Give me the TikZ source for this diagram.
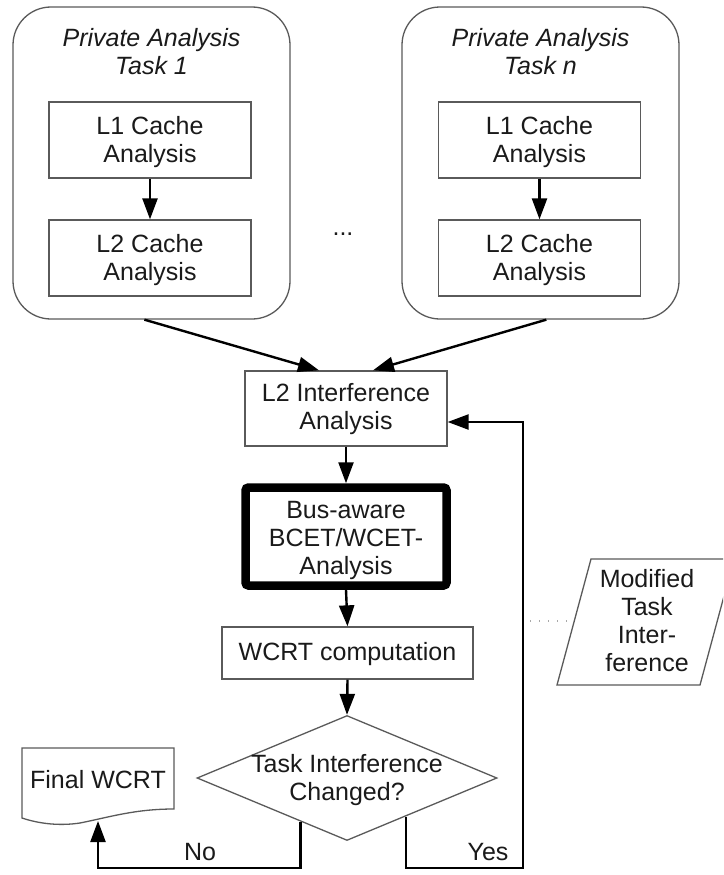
\documentclass[tikz,border=0pt]{standalone}
\usepackage{fontspec}
\setmainfont{Liberation Sans}
\usetikzlibrary{arrows.meta,shapes.geometric,calc}
\definecolor{gcol}{HTML}{5A5A5A}
\definecolor{tcol}{HTML}{1A1A1A}
\definecolor{dcol}{HTML}{A8A8A8}
\newcommand{\fsz}{\fontsize{25}{28}\selectfont}
\begin{document}
\begin{tikzpicture}[x=1pt,y=-1pt,
  txt/.style={inner sep=0pt, align=center, font=\fsz, text=tcol},
  boxline/.style={draw=gcol, line width=1.3pt},
  box/.style={boxline, fill=white, inner sep=0pt, minimum width=202pt, minimum height=76pt},
  outer/.style={boxline, rounded corners=38pt, inner sep=0pt, minimum width=277pt, minimum height=312pt},
  arr/.style={line width=2.4pt, draw=black, -{Triangle[length=21pt,width=15pt]}},
  dotline/.style={draw=dcol, line width=1.3pt, dash pattern=on 1.3pt off 7.7pt}
]
\useasboundingbox (0,0) rectangle (723,875);
\clip (0,0) rectangle (723,875);
\fill[white] (0,0) rectangle (723,875);

% private analysis boxes
\node[outer] (outL) at (151.5,163) {};
\node[txt, font=\fsz\itshape] (titleL) at (151.5,52) {Private Analysis\\Task 1};
\node[box] (L1L) at (150,140) {};
\node[txt] (L1Lt) at (150,142) {L1 Cache\\Analysis};
\node[box] (L2L) at (150,258) {};
\node[txt] (L2Lt) at (150,260) {L2 Cache\\Analysis};

\node[outer] (outR) at (540.5,163) {};
\node[txt, font=\fsz\itshape] (titleR) at (540.5,52) {Private Analysis\\Task \textit{n}};
\node[box] (L1R) at (539.5,140) {};
\node[txt] (L1Rt) at (539.5,142) {L1 Cache\\Analysis};
\node[box] (L2R) at (539.5,258) {};
\node[txt] (L2Rt) at (539.5,260) {L2 Cache\\Analysis};

\node[txt] (dots) at (343,234) {...};

% main chain
\node[box, minimum height=75pt] (L2I) at (346,408.5) {};
\node[txt] (L2It) at (346,409.5) {L2 Interference\\Analysis};
\node[draw=black, line width=8.5pt, rounded corners=3pt, fill=white, inner sep=0pt, minimum width=201pt, minimum height=98pt] (bus) at (346,536.5) {};
\node[txt] (bust) at (346,540) {Bus-aware\\BCET/WCET-\\Analysis};
\node[box, minimum width=251pt, minimum height=52pt] (wcrt) at (347.5,653) {};
\node[txt] (wcrtt) at (347.5,654) {WCRT computation};
\node[diamond, boxline, fill=white, inner sep=0pt, minimum width=300pt, minimum height=125pt] (dia) at (347,778) {};
\node[txt] (diat) at (347,780) {Task Interference\\Changed?};

% final WCRT document
\draw[boxline, fill=white] (22,748) -- (174,748) -- (174,809)
  .. controls (135,809) and (110,817) .. (80,823)
  .. controls (60,826) and (40,824) .. (22,818) -- cycle;
\node[txt] (final) at (98,780) {Final WCRT};
\coordinate (finalbot) at (98,821);

% modified task interference
\draw[boxline, fill=white] (557,685) -- (591,559) -- (734,559) -- (700,685) -- cycle;
\node[txt] (para) at (647,621) {Modified\\Task\\Inter-\\ference};
\coordinate (paraL) at (572,621);
\coordinate (dotstart) at (530,621);
\draw[dotline] (dotstart) -- (paraL);

% connectors
\draw[arr] (L1L.south) -- (L2L.north);
\draw[arr] (L1R.south) -- (L2R.north);
\draw[arr] ([xshift=132pt]outL.south west) -- ([xshift=-27pt]L2I.north);
\draw[arr] ([xshift=145pt]outR.south west) -- ([xshift=27pt]L2I.north);
\draw[arr] (L2I.south) -- (bus.north);
\draw[arr] (bus.south) -- (wcrt.north);
\draw[arr] (wcrt.south) -- (dia.north);

\coordinate (noStart) at ($(dia.west)!0.69!(dia.south)$);
\coordinate (yesStart) at ($(dia.east)!0.61!(dia.south)$);
\coordinate (botline) at (0,868);
\coordinate (yesCorner) at (523,868);

\draw[arr] (noStart) -- (noStart |- botline) -| (finalbot);
\draw[arr] (yesStart) |- (yesCorner) |- ([yshift=-13.5pt]L2I.east);

\node[txt] (nolab) at (200,852) {No};
\node[txt] (yeslab) at (488,852) {Yes};
\end{tikzpicture}
\end{document}
